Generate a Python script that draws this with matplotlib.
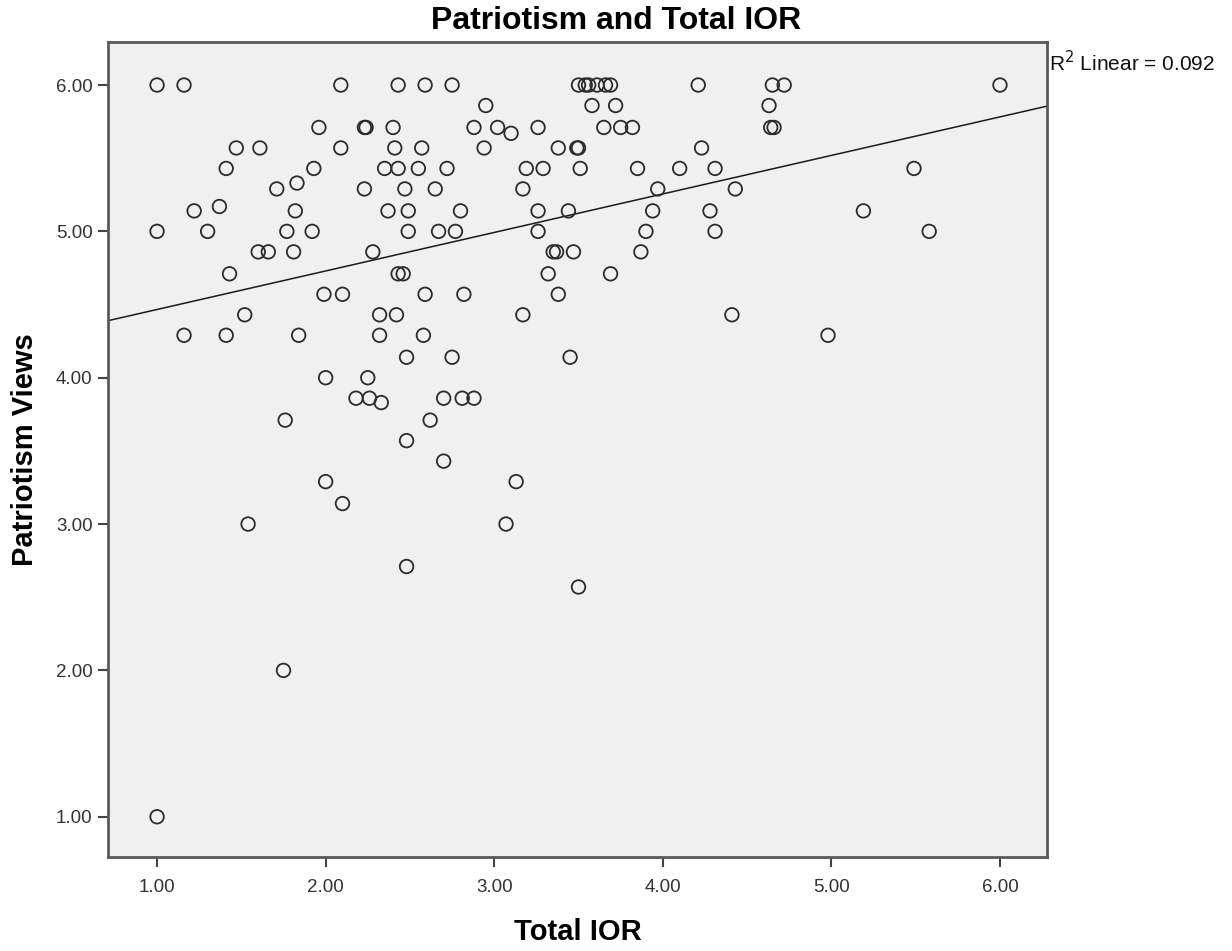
import numpy as np
import matplotlib
matplotlib.use("Agg")
import matplotlib.pyplot as plt

plt.rcParams['font.family'] = ['Liberation Sans', 'DejaVu Sans']

# Total IOR (x) and Patriotism Views (y)
total_ior = [
    1.00, 1.16, 2.09, 2.43, 2.59, 2.75, 3.50, 3.54, 3.56, 3.61, 3.66, 3.69, 4.21, 4.65, 4.72, 6.00,
    2.95, 3.58, 3.72, 4.63,
    1.96, 2.23, 2.24, 2.40, 2.88, 3.02, 3.26, 3.65, 3.75, 3.82, 4.64, 4.66, 3.10,
    1.47, 1.61, 2.09, 2.41, 2.57, 2.94, 3.38, 3.49, 3.50, 4.23,
    1.41, 1.93, 2.35, 2.43, 2.55, 2.72, 3.19, 3.29, 3.51, 3.85, 4.10, 4.31, 5.49,
    1.71, 2.23, 2.47, 2.65, 3.17, 3.97, 4.43, 1.83,
    1.22, 1.82, 2.37, 2.49, 2.80, 3.26, 3.44, 3.94, 4.28, 5.19, 1.37,
    1.00, 1.30, 1.77, 1.92, 2.49, 2.67, 2.77, 3.26, 3.90, 4.31, 5.58,
    1.60, 1.66, 1.81, 2.28, 3.35, 3.37, 3.47, 3.87,
    1.43, 2.43, 2.46, 3.32, 3.69,
    1.99, 2.10, 2.59, 2.82, 3.38,
    1.52, 2.32, 2.42, 3.17, 4.41,
    1.16, 1.41, 1.84, 2.32, 2.58, 4.98,
    2.48, 2.75, 3.45,
    2.00, 2.25,
    2.18, 2.26, 2.70, 2.81, 2.88, 2.33,
    1.76, 2.62,
    2.48,
    2.70,
    2.00, 3.13,
    2.10,
    1.54, 3.07,
    2.48,
    3.50,
    1.75,
    1.00,
]
patriotism = [
    6.00, 6.00, 6.00, 6.00, 6.00, 6.00, 6.00, 6.00, 6.00, 6.00, 6.00, 6.00, 6.00, 6.00, 6.00, 6.00,
    5.86, 5.86, 5.86, 5.86,
    5.71, 5.71, 5.71, 5.71, 5.71, 5.71, 5.71, 5.71, 5.71, 5.71, 5.71, 5.71, 5.67,
    5.57, 5.57, 5.57, 5.57, 5.57, 5.57, 5.57, 5.57, 5.57, 5.57,
    5.43, 5.43, 5.43, 5.43, 5.43, 5.43, 5.43, 5.43, 5.43, 5.43, 5.43, 5.43, 5.43,
    5.29, 5.29, 5.29, 5.29, 5.29, 5.29, 5.29, 5.33,
    5.14, 5.14, 5.14, 5.14, 5.14, 5.14, 5.14, 5.14, 5.14, 5.14, 5.17,
    5.00, 5.00, 5.00, 5.00, 5.00, 5.00, 5.00, 5.00, 5.00, 5.00, 5.00,
    4.86, 4.86, 4.86, 4.86, 4.86, 4.86, 4.86, 4.86,
    4.71, 4.71, 4.71, 4.71, 4.71,
    4.57, 4.57, 4.57, 4.57, 4.57,
    4.43, 4.43, 4.43, 4.43, 4.43,
    4.29, 4.29, 4.29, 4.29, 4.29, 4.29,
    4.14, 4.14, 4.14,
    4.00, 4.00,
    3.86, 3.86, 3.86, 3.86, 3.86, 3.83,
    3.71, 3.71,
    3.57,
    3.43,
    3.29, 3.29,
    3.14,
    3.00, 3.00,
    2.71,
    2.57,
    2.00,
    1.00,
]

x_ticks = [1.0, 2.0, 3.0, 4.0, 5.0, 6.0]
y_ticks = [1.0, 2.0, 3.0, 4.0, 5.0, 6.0]
r2_label = "R$^2$ Linear = 0.092"

x = np.array(total_ior)
y = np.array(patriotism)
slope, intercept = np.polyfit(x, y, 1)

fig = plt.figure(figsize=(12.32, 9.51), dpi=100)
fig.patch.set_facecolor("white")
ax = fig.add_axes([108 / 1232, 1 - 857 / 951, (1047 - 108) / 1232, (857 - 42) / 951])
ax.set_facecolor("#f0f0f0")

ax.scatter(x, y, s=95, facecolors="none", edgecolors="#2b2b2b", linewidths=1.3, zorder=3)

xlim = (0.709, 6.279)
ylim = (0.725, 6.294)
xs = np.array(xlim)
ax.plot(xs, intercept + slope * xs, color="#1a1a1a", linewidth=1.1, zorder=2)

ax.set_xlim(*xlim)
ax.set_ylim(*ylim)
ax.set_xticks(x_ticks)
ax.set_yticks(y_ticks)
ax.set_xticklabels([f"{t:.2f}" for t in x_ticks])
ax.set_yticklabels([f"{t:.2f}" for t in y_ticks])
ax.tick_params(direction="out", length=7, width=1.5, colors="#444444", labelsize=13.5,
               labelcolor="#333333", pad=4)
ax.tick_params(axis="x", pad=9)
for side in ["left", "bottom", "top", "right"]:
    ax.spines[side].set_color("#5a5a5a")
    ax.spines[side].set_linewidth(2.0)

fig.text(0.5, 1 - 21 / 951, "Patriotism and Total IOR", fontsize=23, fontweight="bold",
         ha="center", va="center")
ax.set_xlabel("Total IOR", fontsize=21, fontweight="bold", labelpad=16)
ax.set_ylabel("Patriotism Views", fontsize=21, fontweight="bold", labelpad=12)

fig.text(1049 / 1232, 1 - 63 / 951, r2_label, fontsize=15, ha="left", va="center", color="#111111")

fig.savefig("out.png", dpi=100)
